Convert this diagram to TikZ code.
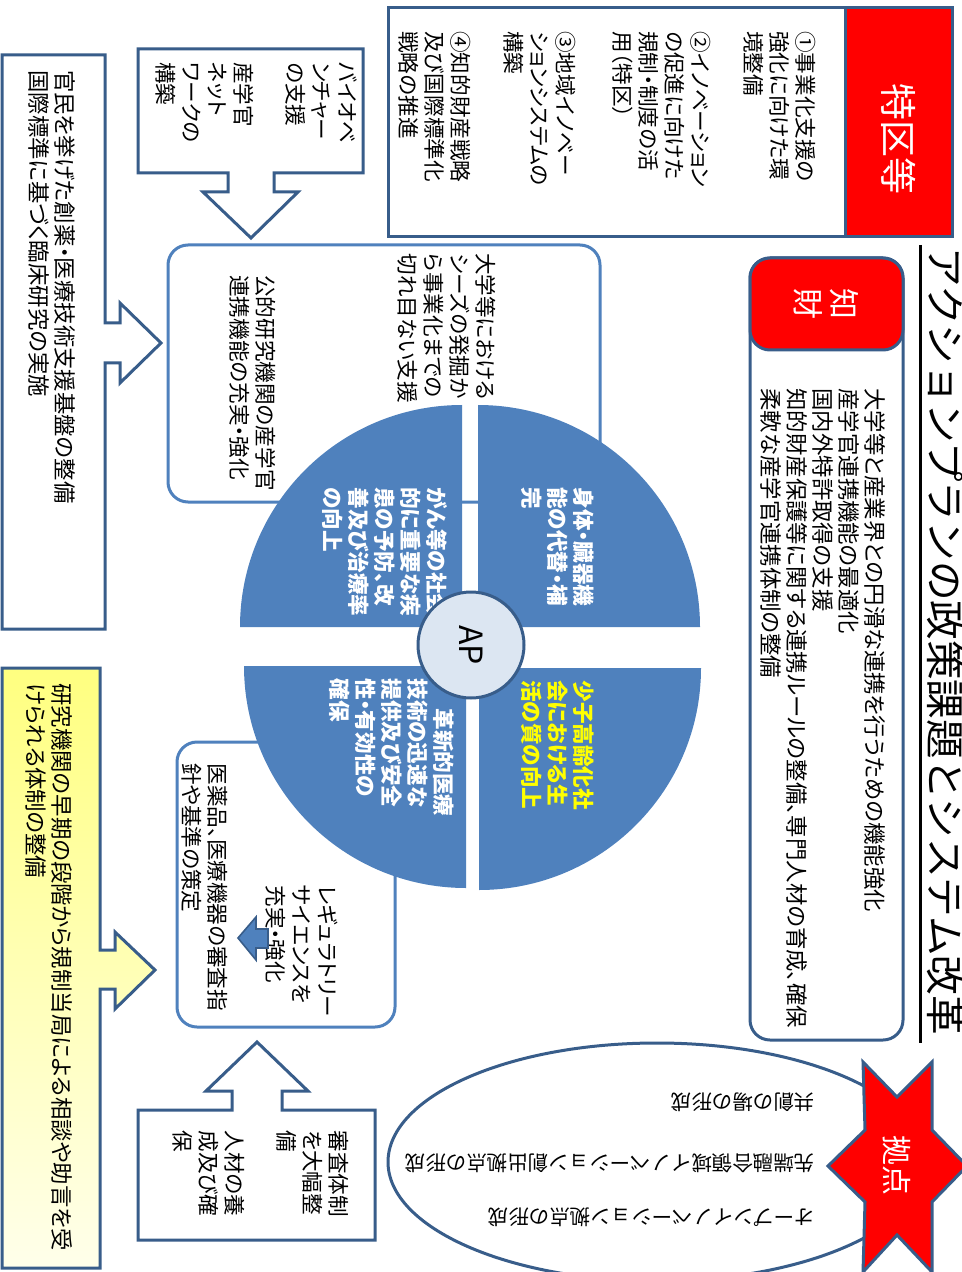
\documentclass[tikz,border=0pt]{standalone}
\usepackage{fontspec}
\setmainfont{Noto Sans CJK JP}
\newfontfamily\pfont{Noto Sans CJK JP}[RawFeature=+palt]
\usepackage{tikz}
\definecolor{dkblue}{RGB}{56,93,138}
\definecolor{midblue}{RGB}{79,129,189}
\definecolor{apfill}{RGB}{220,230,242}
\definecolor{hiyellow}{RGB}{255,255,0}
\newcommand\bodysize{\pfont\fontsize{10.8}{13}\selectfont}
\newcommand\widesize{\pfont\fontsize{11.2}{13}\selectfont}
\newcommand\plainsize{\fontsize{10.25}{13}\selectfont}

\begin{document}
\begin{tikzpicture}[x=0.5pt,y=-0.5pt,
  vtxt/.style={rotate=-90, anchor=north west, inner sep=0pt, align=left, font=\bodysize},
  etxt/.style={rotate=180, anchor=west, inner sep=0pt, font=\plainsize},
  frame/.style={draw=dkblue, line width=1.5pt, fill=white},
  softbox/.style={draw=midblue, line width=1.5pt, fill=white, rounded corners=10pt},
  pietxt/.style={vtxt, font=\bodysize\bfseries, text=white}]
\useasboundingbox (0,0) rectangle (962,1272);
\clip (0,0) rectangle (962,1272);
\fill[white] (0,0) rectangle (962,1272);
%
\node[vtxt, font=\fontsize{19.8}{24}\selectfont] (title) at (964,247) {アクションプランの政策課題とシステム改革};
\draw[line width=1.5pt] (920,245) -- (920,1043);
%
\draw[frame] (388,8) rectangle (952,237);
\draw[frame, fill=red] (845,8) rectangle (952,237);
\node[rotate=-90, text=white, font=\fontsize{18.5}{22}\selectfont] (tokku) at (899,139) {特区等};
\node[vtxt] (tkA) at (816,31) {①事業化支援の\\強化に向けた環\\境整備};
\node[vtxt] (tkB) at (711,31) {②イノベーション\\の促進に向けた\\規制・制度の活\\用（特区）};
\node[vtxt] (tkC) at (576,31) {③地域イノベー\\ションシステムの\\構築};
\node[vtxt] (tkD) at (471,31) {④知的財産戦略\\及び国際標準化\\戦略の推進};
%
\draw[softbox, draw=dkblue] (750,258) rectangle (903,1040);
\draw[softbox, draw=dkblue, fill=red] (750,258) rectangle (903,350);
\node[rotate=-90, text=white, align=center, font=\fontsize{15.5}{18}\selectfont] (chizai) at (826,304) {知\\財};
\node[vtxt, font=\widesize] (czText) at (886,388) {大学等と産業界との円滑な連携を行うための機能強化\\産学官連携機能の最適化\\国内外特許取得の支援\\知的財産保護等に関する連携ルールの整備、専門人材の育成、確保\\柔軟な産学官連携体制の整備};
%
\draw[frame] (138,49) -- (363,49) -- (363,173) -- (274,173) -- (274,192) -- (298,192) -- (251,238)
  -- (203,192) -- (228,192) -- (228,173) -- (138,173) -- cycle;
\node[vtxt] (bio) at (358,62) {バイオベ\\ンチャー\\の支援\\[13pt]産学官\\ネット\\ワークの\\構築};
\draw[frame] (2,55) -- (105,55) -- (105,323) -- (120,323) -- (120,303) -- (161,343) -- (120,383)
  -- (120,363) -- (105,363) -- (105,629) -- (2,629) -- cycle;
\node[vtxt, font=\widesize] (kanmin) at (76,70) {官民を挙げた創薬・医療技術支援基盤の整備\\国際標準に基づく臨床研究の実施};
\draw[draw=dkblue, line width=1.5pt, top color=yellow!50!white, bottom color=yellow!8!white]
  (2,668) -- (100,668) -- (100,950) -- (115,950) -- (115,932) -- (155,970) -- (115,1009)
  -- (115,989) -- (100,989) -- (100,1268) -- (2,1268) -- cycle;
\node[vtxt, font=\widesize] (soudan) at (73,683) {研究機関の早期の段階から規制当局による相談や助言を受\\けられる体制の整備};
\draw[frame] (138,1240) -- (138,1110) -- (232,1110) -- (232,1091) -- (206,1091) -- (257,1042)
  -- (308,1091) -- (282,1091) -- (282,1110) -- (375,1110) -- (375,1240) -- cycle;
\node[vtxt] (shinsa) at (349,1130) {審査体制\\を大幅整\\備\\[13pt]人材の養\\成及び確\\保};
%
\draw[softbox] (168,245) rectangle (600,502);
\node[vtxt] (seeds) at (496,253) {大学等における\\シーズの発掘か\\ら事業化までの\\切れ目ない支援};
\node[vtxt] (kouteki) at (276,275) {公的研究機関の産学官\\連携機能の充実・強化};
\draw[softbox] (177,742) rectangle (395,1027);
\node[vtxt] (regsci) at (338,885) {レギュラトリー\\サイエンスを\\充実・強化};
\node[vtxt] (shishin) at (228,763) {医薬品、医療機器の審査指\\針や基準の策定};
\draw[draw=dkblue, fill=midblue, line width=0.8pt] (238,938) -- (256,917) -- (256,929) -- (268,929)
  -- (268,948) -- (256,948) -- (256,960) -- cycle;
%
\fill[midblue] (462,627) -- (240,627) arc[start angle=180, end angle=270, radius=222] -- cycle;
\fill[midblue] (478,627) -- (478,405) arc[start angle=270, end angle=360, radius=222] -- cycle;
\fill[midblue] (479,668) -- (701,668) arc[start angle=0, end angle=90, radius=222] -- cycle;
\fill[midblue] (466,666) -- (466,888) arc[start angle=90, end angle=180, radius=222] -- cycle;
\node[pietxt] (gan) at (448,487) {がん等の社会\\的に重要な疾\\患の予防、改\\善及び治療率\\の向上};
\node[pietxt] (shintai) at (594,487) {身体・臓器機\\能の代替・補\\完};
\node[pietxt, text=hiyellow] (shoushi) at (594,680) {少子高齢化社\\会における生\\活の質の向上};
\node[pietxt] (kakushin) at (454,678) {\hspace*{15pt}革新的医療\\技術の迅速な\\提供及び安全\\性・有効性の\\確保};
\draw[draw=dkblue, fill=apfill, line width=1.5pt] (471,645) circle[radius=53];
\node[rotate=-90, font=\fontsize{16}{18}\selectfont] (ap) at (471,645) {AP};
%
\draw[frame] (657,1162) ellipse[x radius=269, y radius=119];
\node[etxt] (kyoso) at (815,1102) {共創の場の形成};
\node[etxt] (sentan) at (815,1163) {先端融合領域イノベーション創出拠点の形成};
\node[etxt] (open) at (815,1217) {オープンイノベーション拠点の形成};
\draw[draw=dkblue, fill=red, line width=1.5pt] (863,1062) -- (897,1097) -- (932,1062) -- (932,1130)
  -- (967,1166) -- (932,1202) -- (932,1272) -- (897,1235) -- (863,1272) -- (865,1202)
  -- (828,1166) -- (865,1130) -- cycle;
\node[rotate=-90, text=white, font=\fontsize{15}{18}\selectfont] (kyoten) at (897,1165) {拠点};
\end{tikzpicture}
\end{document}
